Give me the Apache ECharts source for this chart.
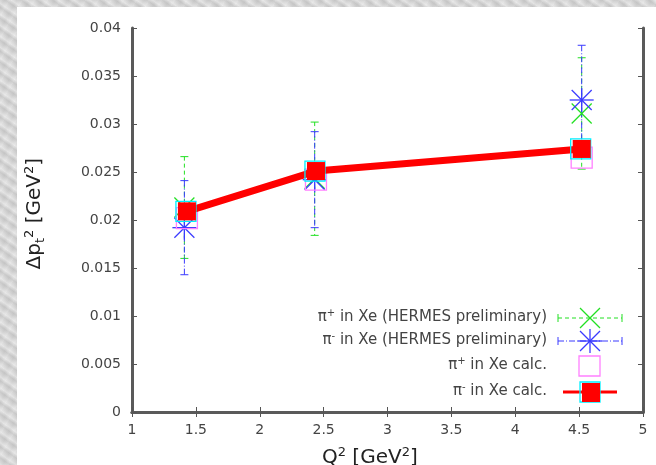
<!DOCTYPE html>
<html>
<head>
<meta charset="utf-8">
<script src="https://cdn.jsdelivr.net/npm/echarts@6/dist/echarts.min.js"></script>
<style>
html,body{margin:0;padding:0;}
body{width:656px;height:465px;overflow:hidden;
background-color:#d2d2d2;
background-image:
 repeating-linear-gradient(35deg, rgba(255,255,255,0.35) 0px, rgba(255,255,255,0.0) 3px, rgba(120,120,120,0.15) 6px, rgba(255,255,255,0.25) 9px),
 repeating-linear-gradient(-60deg, rgba(255,255,255,0.3) 0px, rgba(200,200,200,0.1) 5px, rgba(255,255,255,0.2) 11px);}
#chart{position:absolute;left:0;top:0;width:656px;height:465px;}
</style>
</head>
<body>
<div id="chart"></div>
<script>
// ---- data ----
const xTicks = [1, 1.5, 2, 2.5, 3, 3.5, 4, 4.5, 5];
const yTicks = [0, 0.005, 0.01, 0.015, 0.02, 0.025, 0.03, 0.035, 0.04];
const q2Hermes = [1.41, 2.43, 4.52];
const q2Calc = [1.43, 2.44, 4.52];
const piPlusHermes = [0.0213, 0.0243, 0.0311];
const piPlusHermesErr = [0.0053, 0.0059, 0.0058];
const piMinusHermes = [0.0192, 0.0242, 0.0325];
const piMinusHermesErr = [0.0049, 0.0050, 0.0057];
const piPlusCalc = [0.0202, 0.0242, 0.0265];
const piMinusCalc = [0.0209, 0.0251, 0.0274];
const legendLabels = ['π+ in Xe (HERMES preliminary)', 'π- in Xe (HERMES preliminary)', 'π+ in Xe calc.', 'π- in Xe calc.'];

const GREEN = '#22e022', BLUE = '#3a3aff', MAGENTA = '#ff80ff', CYAN = '#00f0ff', RED = '#ff0000';
const FONT = 'DejaVu Sans';
const TXT = '#444444';

function zip3(a, b, c) { return a.map((v, i) => [v, b[i], c ? c[i] : 0]); }

function errRender(color, dash) {
  return function (params, api) {
    const x = api.value(0), y = api.value(1), e = api.value(2);
    const t = api.coord([x, y + e]), b = api.coord([x, y - e]);
    const st = { stroke: color, lineWidth: 1, lineDash: dash };
    const sc = { stroke: color, lineWidth: 1 };
    return { type: 'group', children: [
      { type: 'line', shape: { x1: t[0], y1: t[1], x2: b[0], y2: b[1] }, style: st },
      { type: 'line', shape: { x1: t[0] - 4, y1: t[1], x2: t[0] + 4, y2: t[1] }, style: sc },
      { type: 'line', shape: { x1: b[0] - 4, y1: b[1], x2: b[0] + 4, y2: b[1] }, style: sc }
    ]};
  };
}
function crossShape(cx, cy, r, color, star) {
  const st = { stroke: color, lineWidth: 1.3 };
  const ch = [
    { type: 'line', shape: { x1: cx - r, y1: cy - r, x2: cx + r, y2: cy + r }, style: st },
    { type: 'line', shape: { x1: cx - r, y1: cy + r, x2: cx + r, y2: cy - r }, style: st }
  ];
  if (star) {
    ch.push({ type: 'line', shape: { x1: cx - r * 1.2, y1: cy, x2: cx + r * 1.2, y2: cy }, style: st });
    ch.push({ type: 'line', shape: { x1: cx, y1: cy - r * 1.2, x2: cx, y2: cy + r * 1.2 }, style: st });
  }
  return ch;
}
function markRender(color, star) {
  return function (params, api) {
    const p = api.coord([api.value(0), api.value(1)]);
    return { type: 'group', children: crossShape(p[0], p[1], 10, color, star) };
  };
}
function squareRender(stroke, fill, size, dx) {
  return function (params, api) {
    const p = api.coord([api.value(0), api.value(1)]);
    return { type: 'rect', shape: { x: p[0] - size / 2 + dx, y: p[1] - size / 2, width: size, height: size },
      style: { stroke: stroke, fill: fill, lineWidth: fill === 'none' ? 1.3 : 0 } };
  };
}

const axisLine = { show: true, lineStyle: { color: '#5a5a5a', width: 3 } };
const tickStyle = { show: true, inside: true, length: 5, lineStyle: { color: '#555', width: 1 } };
const labelStyle = { color: TXT, fontFamily: FONT, fontSize: 14 };

// legend graphics
const legX = 547, legY = [318, 341, 366, 392];
const lg = [];
legendLabels.forEach((s, i) => {
  const sign = s.charAt(1);
  lg.push({ type: 'text', right: 656 - legX, top: legY[i] - 10, z: 100,
    style: { text: '{p|π}{s|' + sign + '}{p|' + s.slice(2) + '}', align: 'right',
      rich: { p: { fontFamily: FONT, fontSize: 15, fill: TXT }, s: { fontFamily: FONT, fontSize: 10, fill: TXT, verticalAlign: 'top', padding: [0, 0, 8, 0] } } } });
});
function legErr(y, color, dash, star) {
  const st = { stroke: color, lineWidth: 1, lineDash: dash };
  const sc = { stroke: color, lineWidth: 1 };
  const g = [
    { type: 'line', shape: { x1: 558, y1: y, x2: 622, y2: y }, style: st, z: 100 },
    { type: 'line', shape: { x1: 558, y1: y - 4, x2: 558, y2: y + 4 }, style: sc, z: 100 },
    { type: 'line', shape: { x1: 622, y1: y - 4, x2: 622, y2: y + 4 }, style: sc, z: 100 }
  ];
  crossShape(590, y, 10, color, star).forEach(c => { c.z = 100; g.push(c); });
  return g;
}
legErr(legY[0], GREEN, [4, 3], false).forEach(g => lg.push(g));
legErr(legY[1], BLUE, [6, 2, 1, 2], true).forEach(g => lg.push(g));
lg.push({ type: 'rect', z: 100, shape: { x: 579, y: legY[2] - 10, width: 21, height: 20 }, style: { stroke: MAGENTA, fill: 'none', lineWidth: 1.3 } });
lg.push({ type: 'line', z: 100, shape: { x1: 563, y1: legY[3], x2: 617, y2: legY[3] }, style: { stroke: RED, lineWidth: 3 } });
lg.push({ type: 'rect', z: 100, shape: { x: 580, y: legY[3] - 10, width: 20, height: 20 }, style: { stroke: CYAN, fill: 'none', lineWidth: 1.3 } });
lg.push({ type: 'rect', z: 101, shape: { x: 582, y: legY[3] - 9, width: 18, height: 19 }, style: { fill: RED } });

const chart = echarts.init(document.getElementById('chart'));
chart.setOption({
  animation: false,
  graphic: [
    { type: 'rect', left: 17, top: 7, z: -10, shape: { width: 639, height: 458 }, style: { fill: '#ffffff' } },
    { type: 'text', left: 23, top: 158, rotation: Math.PI / 2, z: 10,
      style: { text: '{a|Δp}{b|t}{c|2}{a| [GeV}{c|2}{a|]}',
        rich: { a: { fontFamily: FONT, fontSize: 20, fill: '#222' },
                b: { fontFamily: FONT, fontSize: 13, fill: '#222', padding: [12, 0, 0, 0] },
                c: { fontFamily: FONT, fontSize: 13, fill: '#222', padding: [0, 0, 10, 0] } } } },
    { type: 'text', left: 322, top: 446, z: 10,
      style: { text: '{a|Q}{c|2}{a| [GeV}{c|2}{a|]}',
        rich: { a: { fontFamily: FONT, fontSize: 20, fill: '#222' },
                c: { fontFamily: FONT, fontSize: 13, fill: '#222', padding: [0, 0, 10, 0] } } } }
  ].concat(lg),
  grid: { left: 132, right: 13, top: 28, bottom: 53 },
  xAxis: [
    { type: 'value', min: xTicks[0], max: xTicks[xTicks.length - 1], interval: 0.5, position: 'bottom',
      axisLine: axisLine, axisTick: tickStyle, splitLine: { show: false },
      axisLabel: Object.assign({ margin: 11 }, labelStyle) },
    { type: 'value', min: xTicks[0], max: xTicks[xTicks.length - 1], interval: 0.5, position: 'top',
      axisLine: axisLine, axisTick: tickStyle, splitLine: { show: false }, axisLabel: { show: false } }
  ],
  yAxis: [
    { type: 'value', min: yTicks[0], max: yTicks[yTicks.length - 1], interval: 0.005, position: 'left',
      axisLine: axisLine, axisTick: tickStyle, splitLine: { show: false },
      axisLabel: Object.assign({ margin: 11, formatter: v => String(+v.toFixed(3)) }, labelStyle) },
    { type: 'value', min: yTicks[0], max: yTicks[yTicks.length - 1], interval: 0.005, position: 'right',
      axisLine: axisLine, axisTick: tickStyle, splitLine: { show: false }, axisLabel: { show: false } }
  ],
  series: [
    { type: 'custom', z: 2, renderItem: errRender(GREEN, [4, 3]), data: zip3(q2Hermes, piPlusHermes, piPlusHermesErr) },
    { type: 'custom', z: 2, renderItem: errRender(BLUE, [6, 2, 1, 2]), data: zip3(q2Hermes, piMinusHermes, piMinusHermesErr) },
    { type: 'custom', z: 3, renderItem: markRender(GREEN, false), data: zip3(q2Hermes, piPlusHermes) },
    { type: 'custom', z: 3, renderItem: markRender(BLUE, true), data: zip3(q2Hermes, piMinusHermes) },
    { type: 'custom', z: 4, renderItem: squareRender(MAGENTA, 'none', 21, 0), data: zip3(q2Calc, piPlusCalc) },
    { type: 'line', z: 5, data: q2Calc.map((x, i) => [x, piMinusCalc[i]]), showSymbol: false, symbol: 'none',
      lineStyle: { color: RED, width: 7 } },
    { type: 'custom', z: 6, renderItem: squareRender(CYAN, 'none', 20, -1), data: zip3(q2Calc, piMinusCalc) },
    { type: 'custom', z: 7, renderItem: squareRender(null, RED, 18, 0), data: zip3(q2Calc, piMinusCalc) }
  ]
});
</script>
</body>
</html>
